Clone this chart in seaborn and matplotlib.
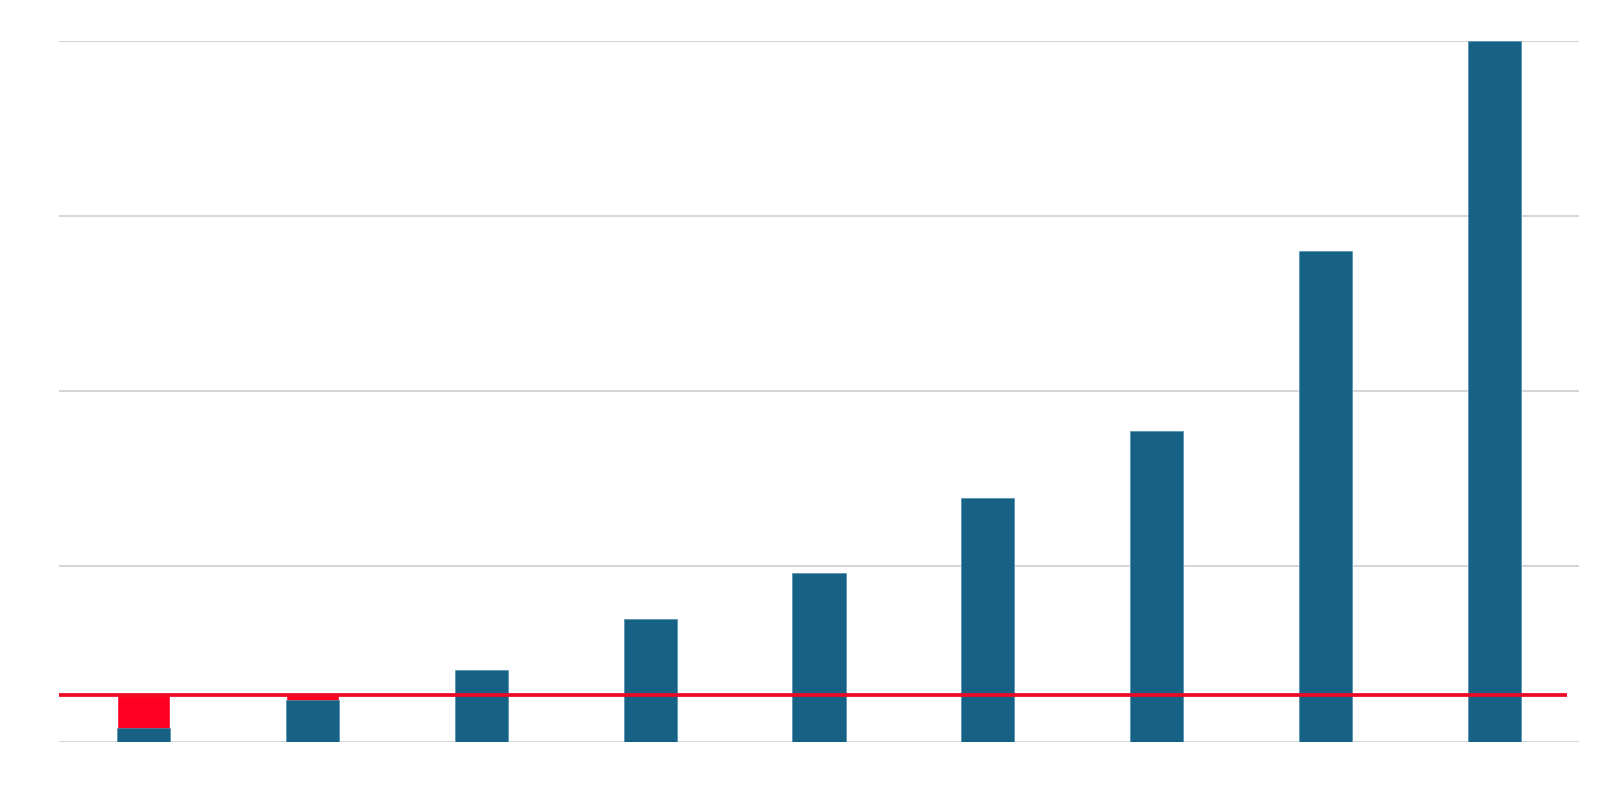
import matplotlib
matplotlib.use("Agg")
import matplotlib.pyplot as plt
import seaborn as sns
import pandas as pd
import numpy as np

# values (no axis labels in the original)
categories = ["1", "2", "3", "4", "5", "6", "7", "8", "9"]
values = [7.5, 23.5, 41, 70, 96, 139, 177, 280, 400]
threshold = 26.5
grid_ticks = [0, 100, 200, 300, 400]

df = pd.DataFrame({"cat": categories, "value": values})
df["upto_line"] = np.maximum(df["value"], threshold)

sns.set_style("white")
fig = plt.figure(figsize=(16, 7.85), dpi=100)
ax = fig.add_axes([59 / 1600, 43.5 / 785, 1520 / 1600, 701 / 785])

# red shortfall underneath, blue bars on top
sns.barplot(data=df, x="cat", y="upto_line", color="#ff0022", saturation=1,
            width=0.314, ax=ax, zorder=2)
sns.barplot(data=df, x="cat", y="value", color="#176184", saturation=1,
            width=0.314, ax=ax, zorder=3, edgecolor="#4f8fae", linewidth=0.5)

ax.axhline(threshold, xmin=0, xmax=0.992, color="#ec0a26", lw=2.7, zorder=4,
           solid_capstyle="butt")

ax.set_xlim(-0.5, 8.5)
ax.set_ylim(0, 400)
ax.set_yticks(grid_ticks)
ax.yaxis.grid(True, color="#d6d6d6", lw=1.5)
ax.set_axisbelow(True)
ax.tick_params(left=False, bottom=False, labelleft=False, labelbottom=False)
ax.set_xlabel("")
ax.set_ylabel("")
for s in ax.spines.values():
    s.set_visible(False)

fig.savefig("out.png", dpi=100)
plt.close()
